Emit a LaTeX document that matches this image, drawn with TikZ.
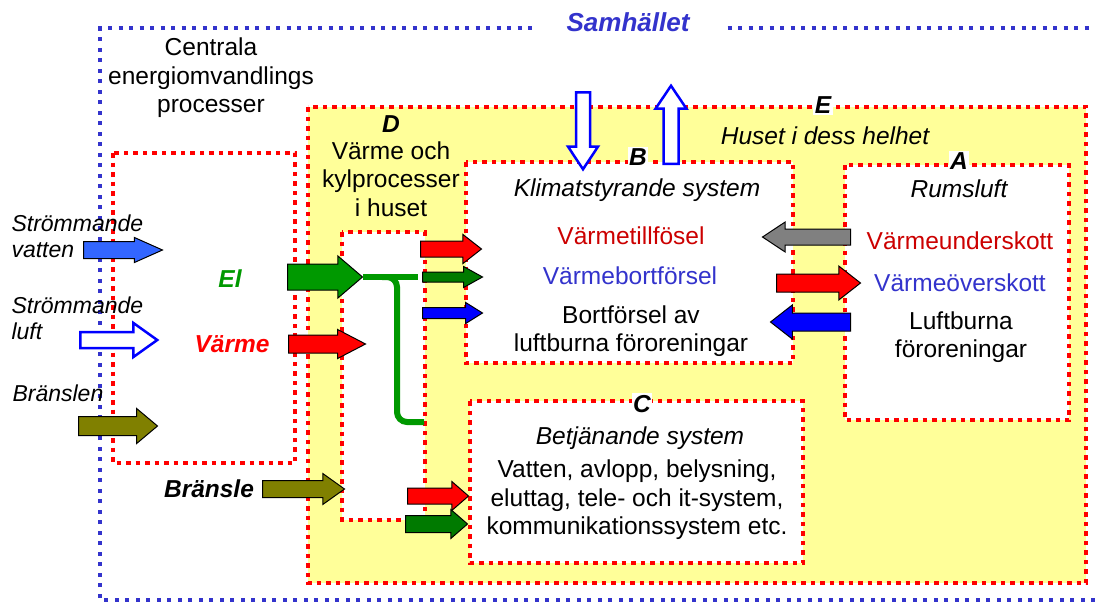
\documentclass[tikz,border=0pt]{standalone}
\usepackage{fontspec}
\setmainfont{Liberation Sans}
\usetikzlibrary{shapes.arrows}
\definecolor{samblue}{RGB}{51,51,204}
\definecolor{husyellow}{RGB}{255,255,153}
\definecolor{varmred}{RGB}{204,0,0}
\definecolor{elgreen}{RGB}{0,153,0}
\definecolor{mossgreen}{RGB}{0,122,0}
\definecolor{fuelolive}{RGB}{128,128,0}
\definecolor{waterblue}{RGB}{51,102,255}
\definecolor{cc}{RGB}{128,128,128}

\begin{document}
\begin{tikzpicture}[x=1pt, y=-1pt,
  txt/.style={font=\fontsize{24.5}{28.5}\selectfont},
  itxt/.style={font=\fontsize{24.5}{28.5}\selectfont\itshape},
  side/.style={font=\fontsize{23}{26}\selectfont\itshape, align=left, anchor=west},
  tag/.style={font=\fontsize{24.5}{28.5}\selectfont\bfseries\itshape, fill=white, inner sep=1.5pt, anchor=base},
  reddots/.style={draw=red, line width=4.5pt, dash pattern=on 4.5pt off 5pt},
  bluedots/.style={draw=samblue, line width=4pt, dash pattern=on 4pt off 6.5pt},
  flow/.style={single arrow, draw=black, line width=1pt, inner sep=0pt, minimum width=0pt, single arrow head indent=0pt, anchor=tail},
  arrowdim/.style n args={3}{inner ysep=#1, single arrow head extend=#2, single arrow tip angle=#3},
  hollow/.style={fill=white, draw=blue, line width=2.5pt},
  elwire/.style={draw=elgreen, line width=6pt}
]
\useasboundingbox (0,0) rectangle (1095,603);

% samhallet
\draw[bluedots] (1095,600) -- (100,600) -- (100,28) -- (1095,28);
\node[font=\fontsize{26}{30}\selectfont\bfseries\itshape, text=samblue, fill=white, inner xsep=32pt, anchor=base] (samh) at (628,31.5) {Samhället};

% centrala processer
\draw[reddots] (113,153) rectangle (295,463);
\node[txt, align=center] (central) at (211,78) {Centrala\\energiomvandlings\\processer};

% huset (E)
\draw[reddots, fill=husyellow] (308,107) rectangle (1086,583);
\node[tag] (etag) at (823,113) {E};
\node[itxt, anchor=base] (huset) at (825,144) {Huset i dess helhet};

% D
\draw[reddots, fill=white] (342,232) rectangle (425,520);
\node[tag, fill=none] (dtag) at (391,132) {D};
\node[txt, align=center] (dtext) at (391,179) {Värme och\\kylprocesser\\i huset};

% B
\draw[reddots, fill=white] (466,162) rectangle (793,363);
\node[tag] (btag) at (638,165) {B};
\node[itxt, anchor=base] (klimat) at (637,196) {Klimatstyrande system};
\node[txt, text=varmred, anchor=base] (tillf) at (631,244) {Värmetillfösel};
\node[txt, text=samblue, anchor=base] (bortf) at (630,284) {Värmebortförsel};
\node[txt, align=center] (luftb) at (631,331) {Bortförsel av\\luftburna föroreningar};

% A
\draw[reddots, fill=white] (845,165) rectangle (1069,420);
\node[tag] (atag) at (959,169) {A};
\node[itxt, anchor=base] (rum) at (959,197) {Rumsluft};
\node[txt, text=varmred, anchor=base] (under) at (960,249) {Värmeunderskott};
\node[txt, text=samblue, anchor=base] (over) at (960,291) {Värmeöverskott};
\node[txt, align=center] (fororen) at (961,337) {Luftburna\\föroreningar};

% C
\draw[reddots, fill=white] (470,401) rectangle (803,563);
\node[tag] (ctag) at (642,412) {C};
\node[itxt, anchor=base] (betj) at (640,444) {Betjänande system};
\node[txt, align=center] (vatten) at (637,500) {Vatten, avlopp, belysning,\\eluttag, tele- och it-system,\\kommunikationssystem etc.};

% vanstra texter
\node[side] (strv) at (8,236) {Strömmande\\vatten};
\node[side] (strl) at (8,318) {Strömmande\\luft};
\node[side, anchor=base west] (bransl) at (9,401) {Bränslen};
\node[font=\fontsize{24.5}{28.5}\selectfont\bfseries\itshape, text=elgreen, anchor=base] (eltxt) at (230,287) {El};
\node[font=\fontsize{24.5}{28.5}\selectfont\bfseries\itshape, text=red, anchor=base] (varmtxt) at (232,352) {Värme};
\node[font=\fontsize{24.5}{28.5}\selectfont\bfseries\itshape, anchor=base] (brtxt) at (209,497) {Bränsle};

% el-ledning
\coordinate (split) at (382,277);
\coordinate (elend) at (424,422);
\draw[elwire, rounded corners=10pt] (split) -| (397,422) -- (elend);

% pilar in
\node[flow, fill=waterblue, arrowdim={8pt}{4pt}{48}, minimum height=79pt] (vpil) at (83,250) {};
\node[flow, hollow, arrowdim={6.75pt}{9pt}{71}, minimum height=77pt] (lpil) at (79,340) {};
\node[flow, fill=fuelolive, arrowdim={9pt}{8pt}{80}, minimum height=79pt] (bnpil) at (78,426) {};
\node[flow, fill=elgreen, arrowdim={12.5pt}{8pt}{81}, minimum height=75pt] (elpil) at (287,277) {};
\node[flow, fill=red, arrowdim={8.5pt}{5.5pt}{55}, minimum height=77pt] (vmpil) at (288,344) {};
\node[flow, fill=fuelolive, arrowdim={8pt}{7pt}{71}, minimum height=82pt] (brpil) at (262,489) {};

% till B
\node[flow, fill=red, arrowdim={7.5pt}{6.5pt}{76}, minimum height=61pt] (bred) at (420,249) {};
\node[flow, fill=mossgreen, arrowdim={4.5pt}{5.5pt}{58}, minimum height=60pt] (bgreen) at (422,277) {};
\node[flow, fill=blue, arrowdim={5pt}{5pt}{64}, minimum height=60pt] (bblue) at (422,313) {};
\draw[elwire] (elpil.tip) -- ([xshift=-4pt]bgreen.tail);

% till C
\node[flow, fill=red, arrowdim={7.5pt}{6.5pt}{82}, minimum height=61pt] (cred) at (407,496) {};
\node[flow, fill=mossgreen, arrowdim={8pt}{6pt}{82}, minimum height=62pt] (cgreen) at (405,524) {};

% mellan A och B
\node[flow, fill=cc, arrowdim={7.5pt}{7pt}{67}, minimum height=88pt, rotate=180] (grpil) at (851,237) {};
\node[flow, fill=red, arrowdim={8.5pt}{8pt}{76}, minimum height=84pt] (rdpil) at (776,283) {};
\node[flow, fill=blue, arrowdim={8.5pt}{8pt}{76}, minimum height=80pt, rotate=180] (blpil) at (851,322) {};

% till och fran samhallet
\node[flow, hollow, arrowdim={5.75pt}{8pt}{67}, minimum height=77pt, rotate=-90] (inpil) at (583,91) {};
\node[flow, hollow, arrowdim={6.25pt}{8pt}{68}, minimum height=78pt, rotate=90] (utpil) at (671,165) {};
\end{tikzpicture}
\end{document}
